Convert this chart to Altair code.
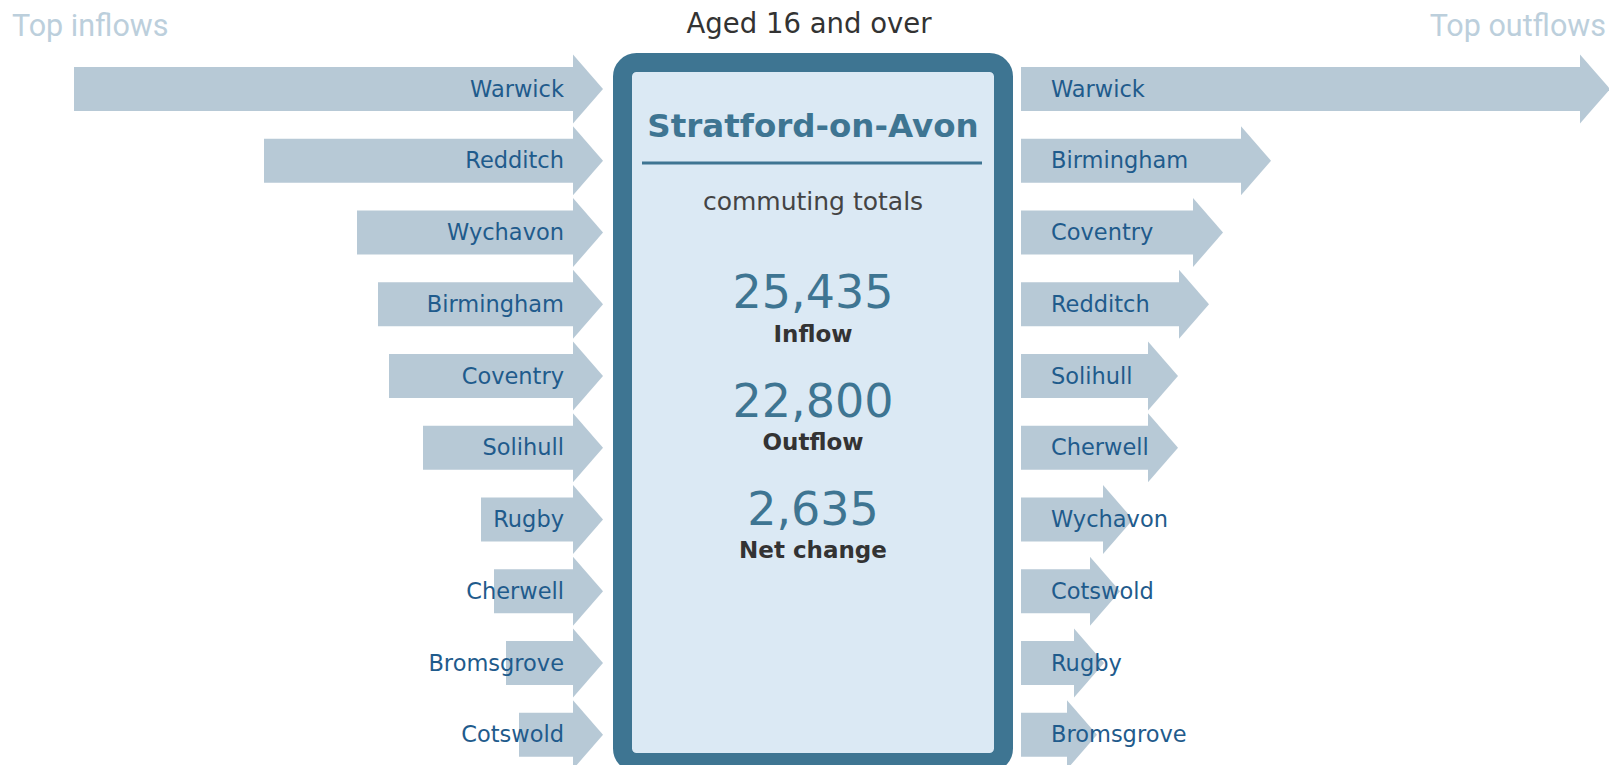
import altair as alt
import pandas as pd

# ---------------- data ----------------
in_names = ["Warwick", "Redditch", "Wychavon", "Birmingham", "Coventry",
            "Solihull", "Rugby", "Cherwell", "Bromsgrove", "Cotswold"]
in_values = [5290, 3390, 2460, 2250, 2140, 1800, 1220, 1090, 970, 840]

out_names = ["Warwick", "Birmingham", "Coventry", "Redditch", "Solihull",
             "Cherwell", "Wychavon", "Cotswold", "Rugby", "Bromsgrove"]
out_values = [5890, 2500, 2020, 1880, 1570, 1570, 1120, 990, 830, 760]

district = "Stratford-on-Avon"
group_title = "Aged 16 and over"
subtitle = "commuting totals"
total_labels = ["Inflow", "Outflow", "Net change"]
total_values = [25435, 22800, 2635]
side_titles = ["Top inflows", "Top outflows"]

# ---------------- layout ----------------
W, H = 1601, 757
M = 8                      # page margin
UNIT = 10                  # commuters per pixel
X0 = 595                   # plot px of the inflow arrow tip
ROW0, STEP = 81, 71.75     # plot px of first row centre, row spacing

ARROW = "#b7c9d6"
BORDER = "#3e7592"
FILL = "#dbe9f4"
LABEL = "#1f5b8c"
DARK = "#333333"
TITLE_LIGHT = "#bccfdc"
FONT = "DejaVu Sans"


def fx(px_full):
    return (px_full - M - X0) * UNIT


def fy(py_full):
    return (py_full - M - ROW0) / STEP


HEAD_W = 30 * UNIT
HEAD_H = 69
BODY_HALF = 22 / STEP
OUT_BASE = fx(1021)
HEAD_PATH = "M-0.4348,-1L0.4348,0L-0.4348,1Z"

xs = alt.Scale(domain=[fx(M), fx(M + W)], nice=False, zero=False)
ys = alt.Scale(domain=[fy(M), fy(M + H)], nice=False, zero=False, reverse=True)


def X(f):
    return alt.X(f"{f}:Q", scale=xs, axis=None)


def Y(f):
    return alt.Y(f"{f}:Q", scale=ys, axis=None)


rows = []
for i, (n, v) in enumerate(zip(in_names, in_values)):
    rows.append(dict(name=n, value=v, side="in", row=i,
                     xs=-v, xe=-HEAD_W + 2 * UNIT, hx=-HEAD_W / 2,
                     lx=fx(564), y1=i - BODY_HALF, y2=i + BODY_HALF))
for i, (n, v) in enumerate(zip(out_names, out_values)):
    rows.append(dict(name=n, value=v, side="out", row=i,
                     xs=OUT_BASE, xe=OUT_BASE + v - HEAD_W + 2 * UNIT,
                     hx=OUT_BASE + v - HEAD_W / 2,
                     lx=OUT_BASE + 30 * UNIT, y1=i - BODY_HALF, y2=i + BODY_HALF))
arrows = pd.DataFrame(rows)

box = pd.DataFrame([dict(x=fx(622.5), x2=fx(1003.5), y=fy(62.5), y2=fy(762.5))])
box_layer = alt.Chart(box).mark_rect(
    fill=FILL, stroke=BORDER, strokeWidth=19, cornerRadius=14
).encode(x=X("x"), x2="x2", y=Y("y"), y2="y2")

cx = fx(813)
rule_df = pd.DataFrame([dict(x=fx(642), x2=fx(982), y=fy(163))])
rule_layer = alt.Chart(rule_df).mark_rule(color=BORDER, strokeWidth=3).encode(
    x=X("x"), x2="x2", y=Y("y"))

bodies = alt.Chart(arrows).mark_rect(color=ARROW).encode(
    x=X("xs"), x2="xe", y=Y("y1"), y2="y2")
heads = alt.Chart(arrows).mark_point(
    shape=HEAD_PATH, filled=True, size=HEAD_H ** 2, opacity=1, color=ARROW, strokeWidth=0
).encode(x=X("hx"), y=Y("row"))

lab_in = alt.Chart(arrows[arrows.side == "in"]).mark_text(
    align="right", baseline="alphabetic", dy=7.5, font=FONT, fontSize=22.5, color=LABEL
).encode(x=X("lx"), y=Y("row"), text="name:N")
lab_out = alt.Chart(arrows[arrows.side == "out"]).mark_text(
    align="left", baseline="alphabetic", dy=7.5, font=FONT, fontSize=22.5, color=LABEL
).encode(x=X("lx"), y=Y("row"), text="name:N")

# centre texts
head_df = pd.DataFrame([dict(t=group_title, x=fx(809), y=fy(33))])
head_layer = alt.Chart(head_df).mark_text(
    align="center", baseline="alphabetic", font=FONT, fontSize=27.5, color=DARK
).encode(x=X("x"), y=Y("y"), text="t:N")

name_df = pd.DataFrame([dict(t=district, x=cx, y=fy(137))])
name_layer = alt.Chart(name_df).mark_text(
    align="center", baseline="alphabetic", font=FONT, fontSize=32.5, fontWeight="bold", color=BORDER
).encode(x=X("x"), y=Y("y"), text="t:N")

sub_df = pd.DataFrame([dict(t=subtitle, x=cx, y=fy(210))])
sub_layer = alt.Chart(sub_df).mark_text(
    align="center", baseline="alphabetic", font=FONT, fontSize=25, color="#444444"
).encode(x=X("x"), y=Y("y"), text="t:N")

tot = pd.DataFrame(dict(
    label=total_labels,
    num=[f"{v:,}" for v in total_values],
    x=[cx] * 3,
    yn=[fy(308 + 108.5 * k) for k in range(3)],
    yl=[fy(342 + 108 * k) for k in range(3)],
))
num_layer = alt.Chart(tot).mark_text(
    align="center", baseline="alphabetic", font=FONT, fontSize=46, color=BORDER
).encode(x=X("x"), y=Y("yn"), text="num:N")
tl_layer = alt.Chart(tot).mark_text(
    align="center", baseline="alphabetic", font=FONT, fontSize=23, fontWeight="bold", color=DARK
).encode(x=X("x"), y=Y("yl"), text="label:N")

side_df = pd.DataFrame(dict(t=side_titles, x=[fx(12), fx(1606)], y=[fy(36), fy(36)]))
side_l = alt.Chart(side_df.iloc[[0]]).mark_text(
    align="left", baseline="alphabetic", font="Roboto", fontSize=30.5, color=TITLE_LIGHT
).encode(x=X("x"), y=Y("y"), text="t:N")
side_r = alt.Chart(side_df.iloc[[1]]).mark_text(
    align="right", baseline="alphabetic", font="Roboto", fontSize=30.5, color=TITLE_LIGHT
).encode(x=X("x"), y=Y("y"), text="t:N")

chart = alt.layer(
    bodies, heads, box_layer, rule_layer, lab_in, lab_out,
    head_layer, name_layer, sub_layer, num_layer, tl_layer, side_l, side_r
).properties(
    width=W, height=H, padding=0, autosize=alt.AutoSizeParams(type="none"),
    background="white"
).configure_view(stroke=None)

chart.save("out.html", embed_options={"renderer": "svg", "actions": False})
